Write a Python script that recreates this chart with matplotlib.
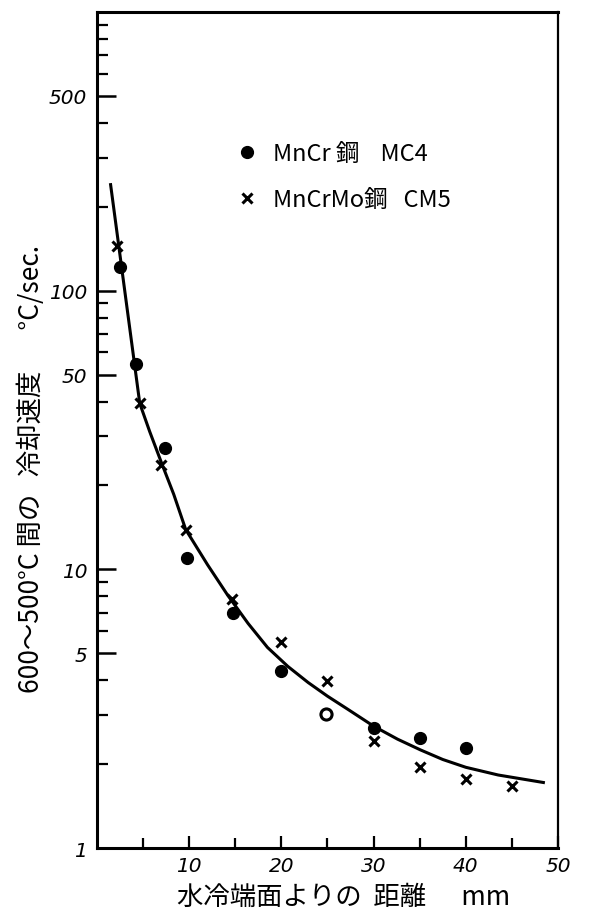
import numpy as np
import matplotlib
matplotlib.use("Agg")
from matplotlib import pyplot as plt
from matplotlib.ticker import FixedLocator, FixedFormatter

plt.rcParams['font.family'] = ['Noto Sans CJK JP', 'DejaVu Sans']

# MnCr鋼 MC4 (黒丸)
mc4_x = [2.5, 4.2, 7.4, 9.8, 14.8, 20, 24.8, 30, 35, 40]
mc4_y = [122, 54.6, 27.3, 11.0, 6.95, 4.31, 3.02, 2.69, 2.48, 2.28]
mc4_open = 6  # 25mm の点は白抜き

# MnCrMo鋼 CM5 (×)
cm5_x = [2.2, 4.7, 7.0, 9.7, 14.7, 20, 25, 30, 35, 40, 45]
cm5_y = [144, 39.4, 23.6, 13.9, 7.86, 5.47, 3.97, 2.42, 1.95, 1.77, 1.67]

# 手書きの曲線
curve_x = [1.5, 4.66, 5.74, 7.04, 8.34, 9.64, 12.0, 14.2, 16.4, 18.5, 20.7,
           22.9, 25.0, 27.2, 30.0, 32.6, 35.1, 37.5, 40.0, 43.5, 48.4]
curve_y = [240, 39.4, 31.2, 24.0, 18.6, 13.9, 10.4, 8.07, 6.40, 5.25, 4.49,
           3.93, 3.51, 3.15, 2.74, 2.46, 2.25, 2.08, 1.95, 1.83, 1.72]

y_ticks = [1, 5, 10, 50, 100, 500]
y_minor = [2, 3, 4, 6, 7, 8, 9, 20, 30, 40, 60, 70, 80, 90, 200, 300, 400, 600, 700, 800, 900]
x_ticks = [10, 20, 30, 40, 50]
x_minor = [5, 15, 25, 35, 45]

fig = plt.figure(figsize=(5.9, 9.2), dpi=100)
ax = fig.add_axes([0.164, 0.077, 0.782, 0.909])

ax.plot(curve_x, curve_y, color='black', lw=2.2, zorder=2)
ax.plot(mc4_x, mc4_y, 'o', color='black', ms=8.5, ls='none', zorder=3,
        label='MnCr 鋼    MC4')
ax.plot(mc4_x[mc4_open], mc4_y[mc4_open], 'o', mfc='white', mec='black',
        mew=2.2, ms=8, zorder=4)
ax.plot(cm5_x, cm5_y, 'x', color='black', ms=7, mew=2.2, ls='none', zorder=3,
        label='MnCrMo鋼   CM5')

ax.set_yscale('log')
ax.set_xlim(0, 50)
ax.set_ylim(1, 1000)

ax.yaxis.set_major_locator(FixedLocator(y_ticks))
ax.yaxis.set_major_formatter(FixedFormatter([str(v) for v in y_ticks]))
ax.yaxis.set_minor_locator(FixedLocator(y_minor))
ax.yaxis.set_minor_formatter(FixedFormatter([''] * len(y_minor)))
ax.xaxis.set_major_locator(FixedLocator(x_ticks))
ax.xaxis.set_minor_locator(FixedLocator(x_minor))

ax.tick_params(which='major', axis='y', direction='in', length=14, width=1.8, pad=7)
ax.tick_params(which='minor', axis='y', direction='in', length=8, width=1.6)
ax.tick_params(which='major', axis='x', direction='in', length=9, width=1.6, pad=6)
ax.tick_params(which='minor', axis='x', direction='in', length=7, width=1.6)
for lab in ax.get_xticklabels() + ax.get_yticklabels():
    lab.set_fontsize(14.5)
    lab.set_fontstyle('italic')
    lab.set_family('DejaVu Sans')

for s in ['left', 'bottom', 'top']:
    ax.spines[s].set_linewidth(2.2)
ax.spines['right'].set_linewidth(1.6)

ax.set_ylabel('600～500°C 間の   冷却速度       °C/sec.', fontsize=19)
ax.yaxis.set_label_coords(-0.112, 0.455)
ax.set_xlabel('水冷端面よりの  距離      mm', fontsize=19)
ax.xaxis.set_label_coords(0.535, -0.041)

ax.legend(loc='upper left', bbox_to_anchor=(0.255, 0.87), frameon=False,
          fontsize=17, handlelength=1.0, handletextpad=0.6, labelspacing=1.0)

fig.savefig('out.png', dpi=100)
